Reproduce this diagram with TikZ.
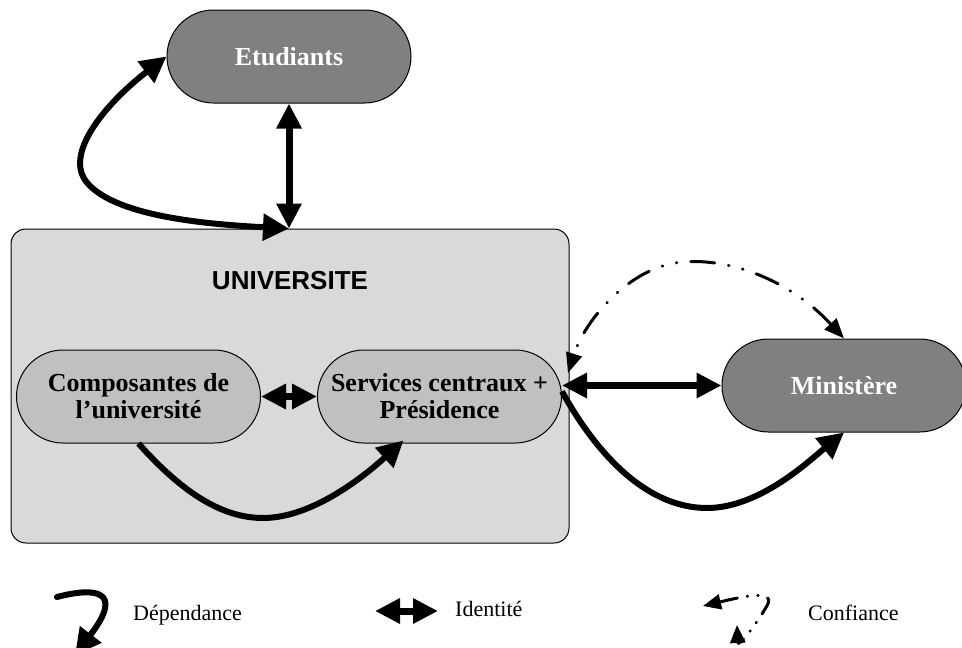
\documentclass[tikz,border=0pt]{standalone}
\usepackage{fontspec}
\setmainfont{Liberation Serif}
\newfontfamily\arialf{Liberation Sans}
\usetikzlibrary{shapes.misc,arrows.meta,calc}
\definecolor{darkbox}{HTML}{808080}
\definecolor{midbox}{HTML}{C0C0C0}
\definecolor{univbg}{HTML}{D9D9D9}
\tikzset{
  darknode/.style={rounded rectangle, draw=black, line width=1pt, fill=darkbox,
    minimum width=244pt, minimum height=93pt, text=white, inner sep=0pt,
    font=\bfseries\fontsize{26}{27}\selectfont, align=center},
  midnode/.style={rounded rectangle, draw=black, line width=1pt, fill=midbox,
    minimum width=244pt, minimum height=93pt, text=black, inner sep=0pt,
    font=\bfseries\fontsize{26}{27}\selectfont, align=center},
  bighead/.tip={Triangle[length=26pt,width=26pt]},
  dep/.style={line width=6pt, -bighead},
  depboth/.style={line width=6pt, bighead-bighead},
  ident/.style={line width=7pt, {Triangle[length=25pt,width=24pt]}-{Triangle[length=25pt,width=24pt]}},
  conf/.style={line width=3pt, line cap=round,
    dash pattern=on 24pt off 14pt on 0.5pt off 14pt on 0.5pt off 14pt,
    {Triangle[length=20pt,width=16pt]}-{Triangle[length=20pt,width=16pt]}},
  legconf/.style={line width=3pt, line cap=round,
    dash pattern=on 18pt off 10pt on 0.5pt off 10pt on 0.5pt off 10pt,
    {Triangle[length=18pt,width=15pt]}-{Triangle[length=18pt,width=15pt]}},
  legtext/.style={font=\fontsize{22}{23}\selectfont, anchor=base west, inner sep=0pt}
}
\begin{document}
\begin{tikzpicture}[x=1pt,y=-1pt]
\useasboundingbox[fill=white] (0,0) rectangle (962,648);

% university box
\node[draw=black, line width=1pt, fill=univbg, rounded corners=15pt,
      minimum width=558pt, minimum height=314pt, inner sep=0pt] (univ) at (290,386) {};
\node[font=\arialf\bfseries\fontsize{26}{27}\selectfont, inner sep=0pt] (unilabel) at (290,281) {UNIVERSITE};

% nodes
\node[darknode] (etu) at (289,56.5) {Etudiants};
\node[midnode] (comp) at (138.5,396.5) {Composantes de\\l’université};
\node[midnode] (serv) at (439.5,396.5) {Services centraux +\\Présidence};
\node[darknode] (min) at (844,385.5) {Ministère};

% Etudiants links
\draw[ident] (etu.south) -- (etu.south |- univ.north);
\draw[depboth] (etu.south |- univ.north) .. controls (200,224) and (110,215) .. (85,180)
   .. controls (65,150) and (110,100) .. (etu.west);

% inside university
\draw[ident] (comp.east) -- (serv.west);
\draw[dep] (comp.south) .. controls (180,490) and (220,518) .. (263,518)
   .. controls (310,518) and (360,480) .. ([xshift=-36pt,yshift=3pt]serv.south);

% Ministere links
\draw[ident] (min.west -| serv.east) -- (min.west);
\draw[dep] ([yshift=5pt]serv.east) .. controls (600,460) and (650,508) .. (707,508)
   .. controls (760,508) and (810,460) .. (min.south);
\coordinate (cf) at (568,373);
\draw[conf] (min.north) .. controls (790,280) and (730,258) .. (683,262)
   .. controls (630,266) and (585,320) .. (cf);

% legend
\draw[dep, line cap=round] (57,597) .. controls (95,587) and (125,590) .. (75,655);
\node[legtext] (ldep) at (133,620) {Dépendance};
\draw[ident] (375,611) -- (438,611);
\node[legtext] (lid) at (455,616) {Identité};
\draw[legconf] (703,606) .. controls (745,596) and (780,588) .. (765,609)
   .. controls (755,626) and (738,648) .. (737,625);
\node[legtext] (lconf) at (808,620) {Confiance};
\end{tikzpicture}
\end{document}
